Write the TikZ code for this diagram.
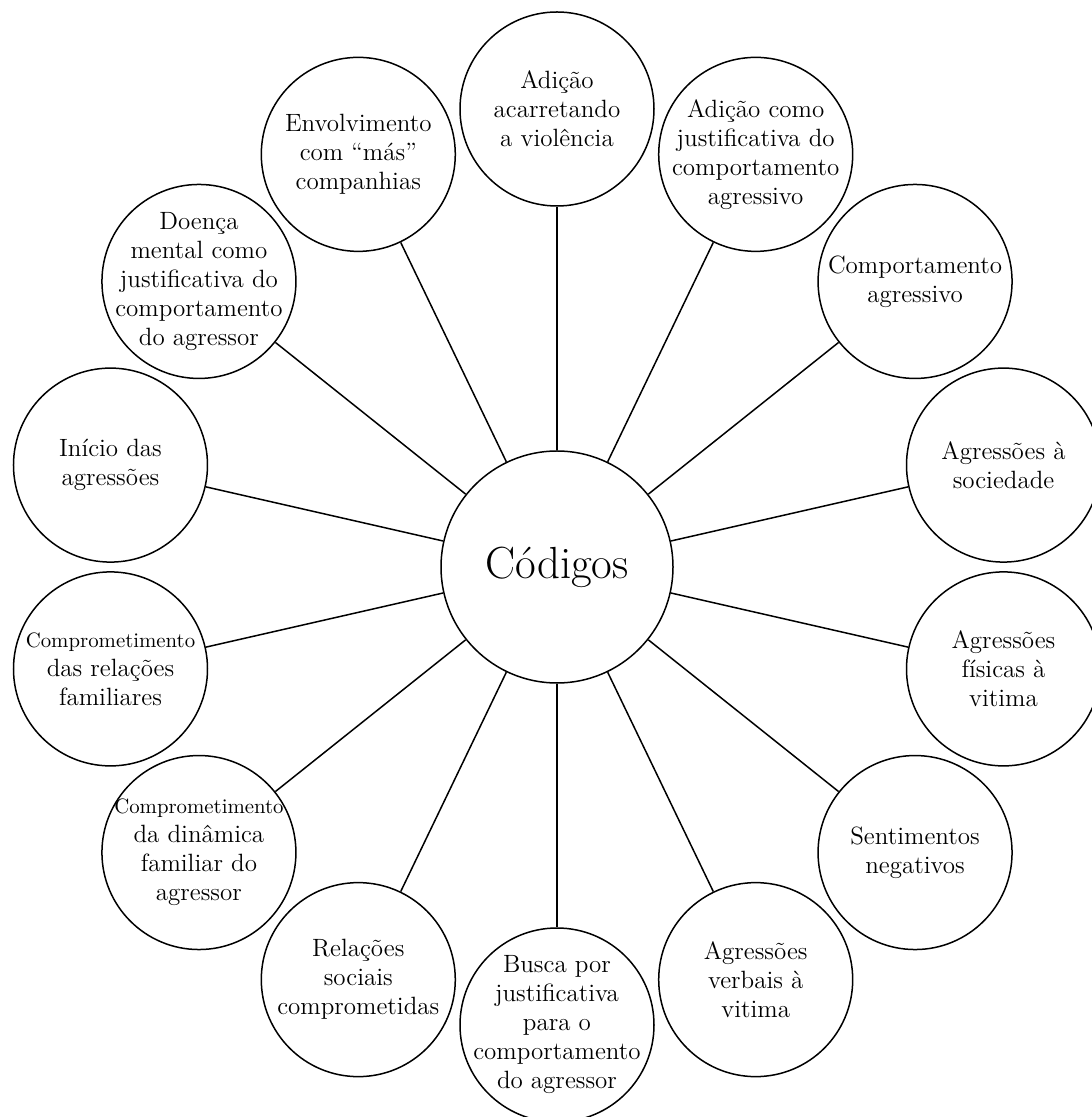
\documentclass[tikz,border=0pt]{standalone}
\tikzset{
	codigo/.style={draw, circle, line width=0.75pt, minimum size=97pt, inner sep=-12pt, align=center, font=\fontsize{12.5}{14.5}\selectfont},
	central/.style={draw, circle, line width=0.75pt, minimum size=116pt, inner sep=0pt, font=\fontsize{22.5}{26}\selectfont},
	ligacao/.style={line width=0.75pt}
}
\newcommand{\pequeno}[1]{{\fontsize{10.4}{14.5}\selectfont #1}}

\begin{document}
\begin{tikzpicture}

	\useasboundingbox (-278.5pt,-275pt) rectangle (267pt,283.5pt);

	\node[central] (codigos) at (0,0) {Códigos};

	\foreach \i/\texto in {0/{Adição\\acarretando\\a violência},
		1/{Adição como\\justificativa do\\comportamento\\agressivo},
		2/{Comportamento\\agressivo},
		3/{Agressões à\\sociedade},
		4/{Agressões\\físicas à\\vitima},
		5/{Sentimentos\\negativos},
		6/{Agressões\\verbais à\\vitima},
		7/{Busca por\\justificativa\\para o\\comportamento\\do agressor},
		8/{Relações\\sociais\\comprometidas},
		9/{\pequeno{Comprometimento}\\da dinâmica\\familiar do\\agressor},
		10/{\pequeno{Comprometimento}\\das relações\\familiares},
		11/{Início das\\agressões},
		12/{Doença\\mental como\\justificativa do\\comportamento\\do agressor},
		13/{Envolvimento\\com “más”\\companhias}}
	{
		\node[codigo] (c\i) at ({90-\i*360/14}:229pt) {\texto};
		\draw[ligacao] (codigos) -- (c\i);
	} %end for \i

\end{tikzpicture}
\end{document}
